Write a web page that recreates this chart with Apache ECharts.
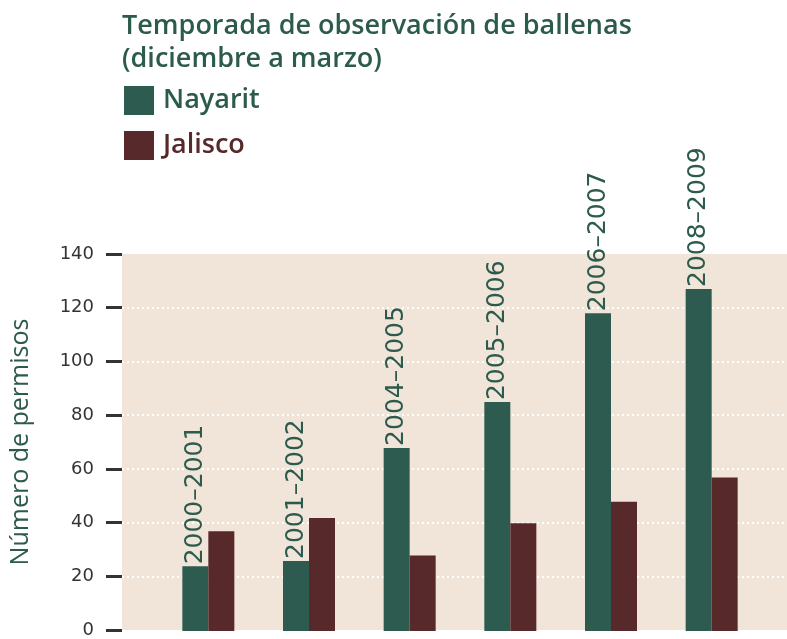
<!DOCTYPE html>
<html>
<head>
<meta charset="utf-8">
<script src="https://cdn.jsdelivr.net/npm/echarts@6/dist/echarts.min.js"></script>
<style>
  html, body { margin: 0; padding: 0; background: #fff; }
  #chart { width: 787px; height: 639px; }
</style>
</head>
<body>
<div id="chart"></div>
<script>
// temporadas (eje x)
const seasons = ["2000–2001", "2001–2002", "2004–2005", "2005–2006", "2006–2007", "2008–2009"];
// número de permisos
const nayarit = [24, 26, 68, 85, 118, 127];
const jalisco = [37, 42, 28, 40, 48, 57];
const yTicks = [0, 20, 40, 60, 80, 100, 120, 140];

const green = "#2e5b50";
const brown = "#57292a";
const textGreen = "#2c5a4d";

const chart = echarts.init(document.getElementById("chart"));
chart.setOption({
  animation: false,
  backgroundColor: "#fff",
  title: {
    text: "Temporada de observación de ballenas\n(diciembre a marzo)",
    left: 117,
    top: 5,
    textStyle: {
      fontFamily: "Open Sans",
      fontWeight: 600,
      fontSize: 27,
      lineHeight: 33,
      color: textGreen,
    },
  },
  legend: {
    orient: "vertical",
    left: 119,
    top: 81,
    icon: "rect",
    itemWidth: 30,
    itemHeight: 29,
    itemGap: 16,
    itemStyle: { borderWidth: 0 },
    textStyle: { fontFamily: "Open Sans", fontWeight: 600, fontSize: 27, padding: [0, 0, 0, 4] },
    data: [
      { name: "Nayarit", textStyle: { color: textGreen } },
      { name: "Jalisco", textStyle: { color: brown } },
    ],
  },
  grid: [
    // fondo + eje y
    { left: 120, right: 0, top: 254, bottom: 8, show: true, backgroundColor: "#f1e4d9", borderWidth: 0 },
    // barras
    { left: 158, right: 25, top: 254, bottom: 8 },
  ],
  xAxis: [
    { gridIndex: 0, type: "category", data: seasons, show: false },
    { gridIndex: 1, type: "category", data: seasons, show: false },
  ],
  yAxis: [
    {
      gridIndex: 0,
      type: "value",
      min: yTicks[0],
      max: yTicks[yTicks.length - 1],
      interval: 20,
      name: "Número de permisos",
      nameLocation: "middle",
      nameGap: 89,
      nameTextStyle: { fontFamily: "Open Sans", fontSize: 25, color: textGreen },
      axisLine: { show: false },
      axisTick: { show: true, length: 16, lineStyle: { color: "#333", width: 3 } },
      axisLabel: { margin: 28, fontFamily: "DejaVu Sans", fontSize: 18, color: "#333" },
      splitLine: {
        show: true,
        showMinLine: false,
        showMaxLine: false,
        lineStyle: { color: "#fff", width: 2, type: [2, 3] },
      },
    },
    { gridIndex: 1, type: "value", min: yTicks[0], max: yTicks[yTicks.length - 1], interval: 20, show: false },
  ],
  series: [
    {
      name: "Nayarit",
      type: "bar",
      xAxisIndex: 1,
      yAxisIndex: 1,
      data: nayarit,
      barWidth: 26,
      barGap: "0%",
      itemStyle: { color: green },
      label: {
        show: true,
        position: "top",
        rotate: 90,
        align: "left",
        verticalAlign: "middle",
        distance: 6,
        offset: [-4, 0],
        fontFamily: "DejaVu Sans",
        fontSize: 25,
        color: textGreen,
        formatter: (p) => seasons[p.dataIndex],
      },
    },
    {
      name: "Jalisco",
      type: "bar",
      xAxisIndex: 1,
      yAxisIndex: 1,
      data: jalisco,
      barWidth: 26,
      barGap: "0%",
      itemStyle: { color: brown },
    },
  ],
});
</script>
</body>
</html>
